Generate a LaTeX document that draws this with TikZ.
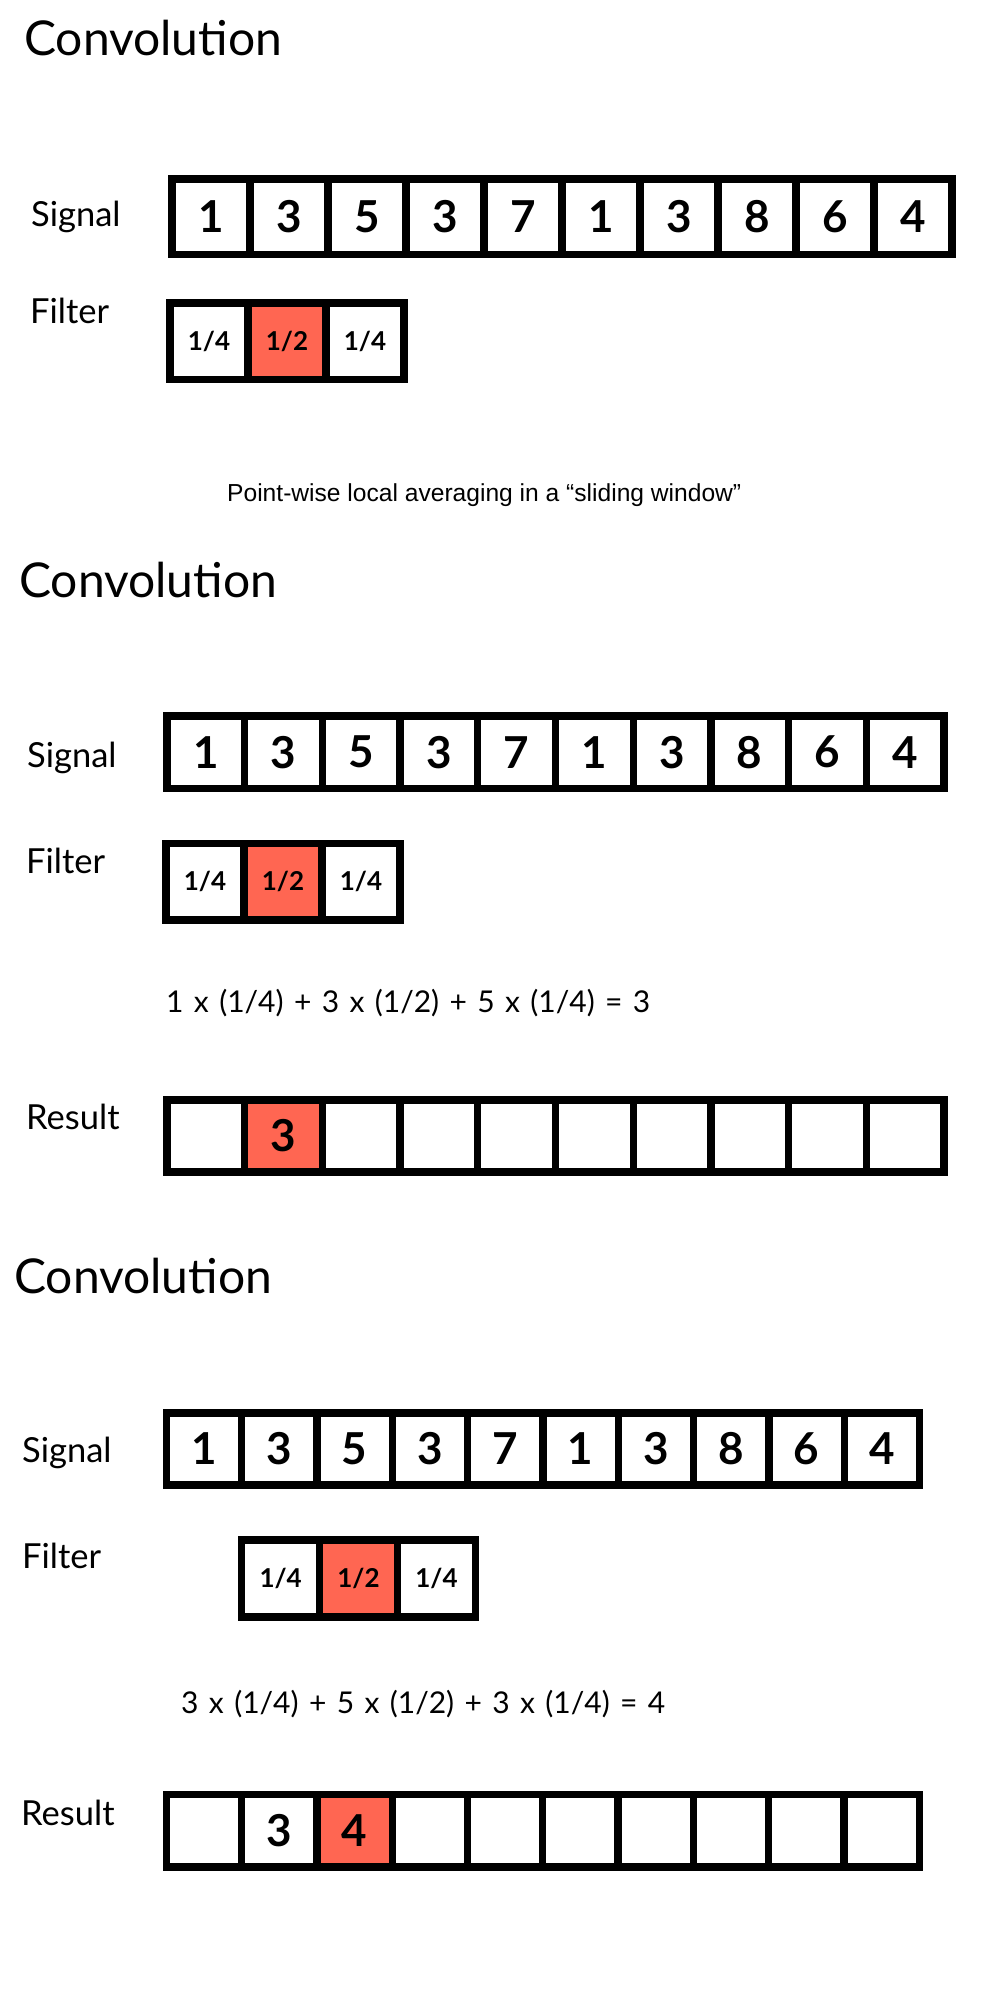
\documentclass[tikz,border=0pt]{standalone}
\usepackage{fontspec}
\setmainfont{Lato}
\newfontfamily\capfont{Liberation Sans}
\newfontfamily\sumfont{Lato}[WordSpace=1.35]
\definecolor{hot}{RGB}{255,102,82}
\tikzset{
  title/.style={anchor=base west, inner sep=0pt, font=\fontsize{48}{56}\selectfont},
  rowlabel/.style={anchor=base west, inner sep=0pt, font=\fontsize{34.5}{40}\selectfont},
  sum/.style={anchor=base west, inner sep=0pt, font=\sumfont\fontsize{30}{36}\selectfont},
  cell/.style 2 args={draw, line width=7.3pt, fill=white, minimum width=#1, minimum height=#2,
    inner sep=0pt, font=\bfseries\fontsize{44}{50}\selectfont},
  fcell/.style 2 args={cell={#1}{#2}, font=\bfseries\fontsize{26}{30}\selectfont}
}
\begin{document}
\begin{tikzpicture}[x=1pt,y=-1pt]
  \fill[white] (0,0) rectangle (984,2000);
  \useasboundingbox (0,0) rectangle (984,2000);

  \node[title] (ttla) at (24,55) {Convolution};
  \node[rowlabel] (lsa) at (31,226) {Signal};
  \foreach \v [count=\i] in {1,3,5,3,7,1,3,8,6,4}
    \node[cell={78pt}{75.5pt}] (sa\i) at ({172+78*(\i-.5)},216.75) {\v};
  \node[rowlabel] (lfa) at (30,323) {Filter};
  \foreach \v/\c [count=\i] in {{1/4}/white,{1/2}/hot,{1/4}/white}
    \node[fcell={78pt}{76.5pt},fill=\c] (fa\i) at ({170+78*(\i-.5)},341.25) {\v};
  \node[anchor=base west, inner sep=0pt, font=\capfont\fontsize{24.6}{29}\selectfont] (capa) at (227,501)
    {Point-wise local averaging in a “sliding window”};

  \node[title] (ttlb) at (19,597) {Convolution};
  \node[rowlabel] (lsb) at (27,767) {Signal};
  \foreach \v [count=\i] in {1,3,5,3,7,1,3,8,6,4}
    \node[cell={77.7pt}{72.5pt}] (sb\i) at ({167+77.7*(\i-.5)},752.25) {\v};
  \node[rowlabel] (lfb) at (26,873) {Filter};
  \foreach \v/\c [count=\i] in {{1/4}/white,{1/2}/hot,{1/4}/white}
    \node[fcell={78pt}{76.5pt},fill=\c] (fb\i) at ({166+78*(\i-.5)},881.75) {\v};
  \node[sum] (eqb) at (166,1012) {1 x (1/4) + 3 x (1/2) + 5 x (1/4) = 3};
  \node[rowlabel] (lrb) at (26,1129) {Result};
  \foreach \v/\c [count=\i] in {{}/white,3/hot,{}/white,{}/white,{}/white,{}/white,{}/white,{}/white,{}/white,{}/white}
    \node[cell={77.7pt}{72pt},fill=\c] (rb\i) at ({167+77.7*(\i-.5)},1136) {\v};

  \node[title] (ttlc) at (14,1293) {Convolution};
  \node[rowlabel] (lsc) at (22,1462) {Signal};
  \foreach \v [count=\i] in {1,3,5,3,7,1,3,8,6,4}
    \node[cell={75.3pt}{72pt}] (sc\i) at ({166.5+75.3*(\i-.5)},1449) {\v};
  \node[rowlabel] (lfc) at (22,1568) {Filter};
  \foreach \v/\c [count=\i] in {{1/4}/white,{1/2}/hot,{1/4}/white}
    \node[fcell={77.9pt}{77pt},fill=\c] (fc\i) at ({241.7+77.9*(\i-.5)},1578.5) {\v};
  \node[sum] (eqc) at (181,1713) {3 x (1/4) + 5 x (1/2) + 3 x (1/4) = 4};
  \node[rowlabel] (lrc) at (21,1825) {Result};
  \foreach \v/\c [count=\i] in {{}/white,3/white,4/hot,{}/white,{}/white,{}/white,{}/white,{}/white,{}/white,{}/white}
    \node[cell={75.3pt}{72.3pt},fill=\c] (rc\i) at ({166.3+75.3*(\i-.5)},1830.85) {\v};
\end{tikzpicture}
\end{document}
